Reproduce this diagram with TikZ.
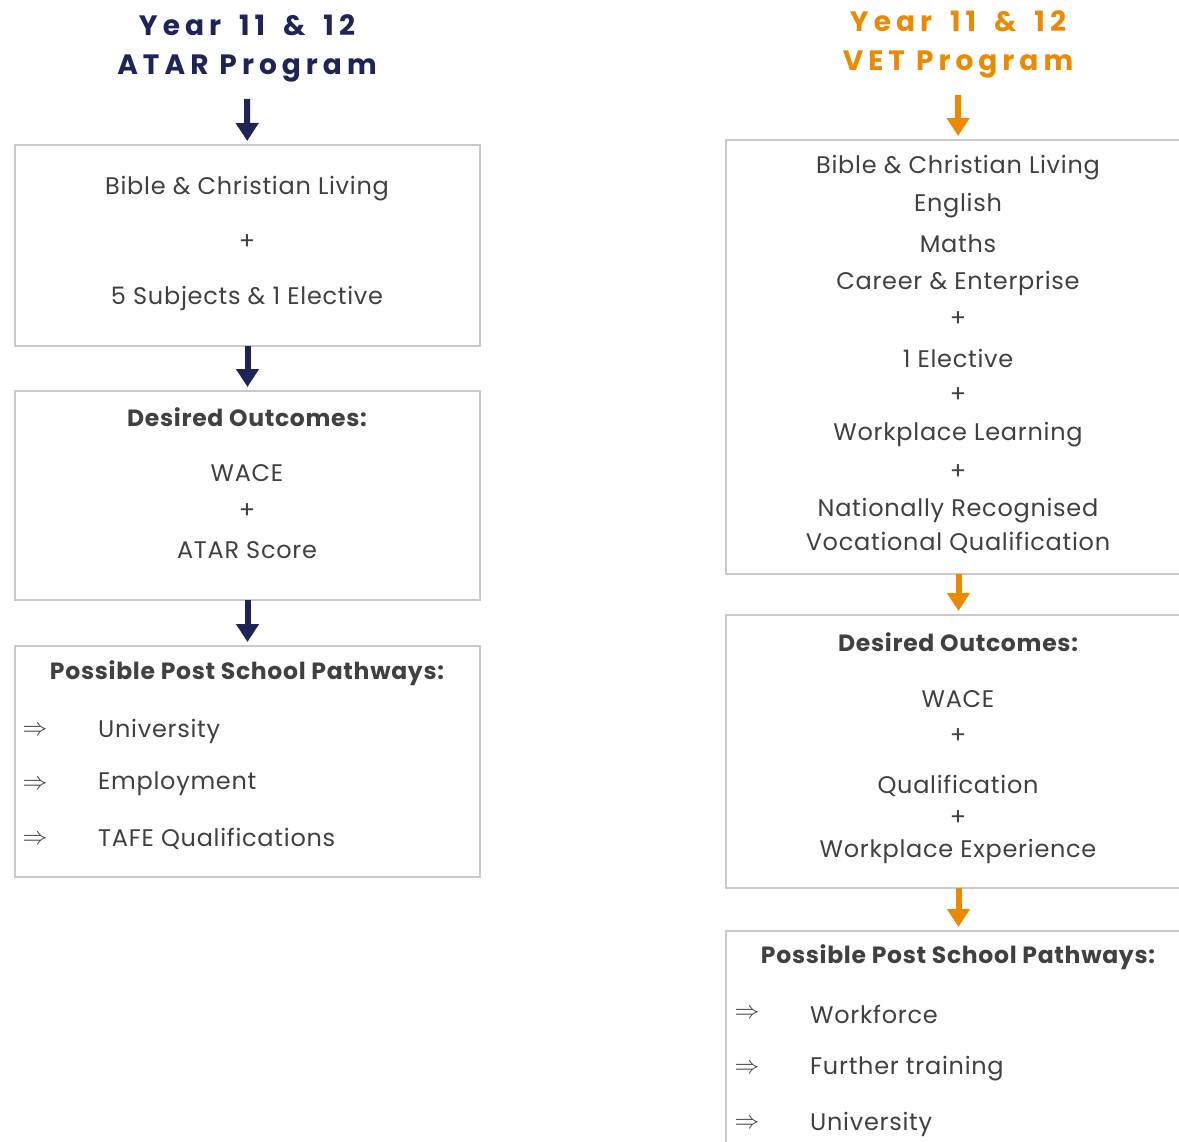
\documentclass[tikz,border=0pt]{standalone}
\usepackage{fontspec}
\setmainfont{Poppins}[LetterSpace=3]
\newfontfamily\headfont[LetterSpace=18]{Poppins}
\usetikzlibrary{arrows.meta, positioning}
\definecolor{atarblue}{HTML}{1F2458}
\definecolor{vetorange}{HTML}{EB8A00}
\definecolor{boxgray}{HTML}{CACACA}
\definecolor{textgray}{HTML}{404040}
\newcommand{\gap}{\hspace{7pt}}

\tikzset{
  box/.style={draw=boxgray, line width=1.2pt, inner sep=0pt, outer sep=0pt, minimum width=465pt},
  txt/.style={text=textgray, font=\fontsize{24}{28}\selectfont, inner sep=0pt, yshift=-2pt},
  hd/.style={text=textgray, font=\bfseries\fontsize{23.5}{28}\selectfont, inner sep=0pt, yshift=-1pt},
  item/.style={txt, anchor=west},
  imp/.style={text=textgray, font=\fontsize{27}{27}\selectfont, inner sep=0pt},
  prog/.style={font=\headfont\bfseries\fontsize{28}{39}\selectfont, align=center, inner sep=0pt},
  downarrow/.style={line width=6pt, -{Triangle[width=22pt,length=18pt]}, shorten >=4pt}
}

\begin{document}
\begin{tikzpicture}[x=1pt, y=-1pt]
\useasboundingbox (0,0) rectangle (1179,1142);

% ATAR column
\node[prog, text=atarblue] (atarhead) at (247,48) {Year\gap{} 11\gap{} \&\gap{} 12\\ATAR Program};
\node[box, minimum height=201pt] (abox1) at (247.5,245.5) {};
\node[txt] (abible) at (247,187) {Bible \& Christian Living};
\node[txt] (aplus1) at (247,240) {+};
\node[txt] (asubj) at (247,296) {5 Subjects \& 1 Elective};

\node[box, minimum height=209pt] (abox2) at (247.5,495.5) {};
\node[hd] (aout) at (247,416) {Desired Outcomes:};
\node[txt] (awace) at (247,471) {WACE};
\node[txt] (aplus2) at (247,509) {+};
\node[txt] (ascore) at (247,548) {ATAR Score};

\node[box, minimum height=231pt] (abox3) at (247.5,761.5) {};
\node[hd] (apath) at (247,672) {Possible Post School Pathways:};
\node[imp] (aimp1) at (35,731) {$\Rightarrow$};
\node[item] (auni) at (98,729) {University};
\node[imp] (aimp2) at (35,785) {$\Rightarrow$};
\node[item] (aemp) at (98,782) {Employment};
\node[imp] (aimp3) at (35,840) {$\Rightarrow$};
\node[item] (atafe) at (98,837) {TAFE Qualifications};

\draw[downarrow, atarblue, shorten <=17pt] (atarhead) -- (abox1);
\draw[downarrow, atarblue] (abox1) -- (abox2);
\draw[downarrow, atarblue] (abox2) -- (abox3);

% VET column
\node[prog, text=vetorange] (vethead) at (958,44) {Year\gap{} 11\gap{} \&\gap{} 12\\VET Program};
\node[box, minimum height=434pt] (vbox1) at (958.5,357) {};
\node[txt] (vbible) at (958,166) {Bible \& Christian Living};
\node[txt] (veng) at (958,204) {English};
\node[txt] (vmath) at (958,242) {Maths};
\node[txt] (vcareer) at (958,281) {Career \& Enterprise};
\node[txt] (vplus1) at (958,317) {+};
\node[txt] (velect) at (958,356) {1 Elective};
\node[txt] (vplus2) at (958,393) {+};
\node[txt] (vwork) at (958,433) {Workplace Learning};
\node[txt] (vplus3) at (958,470) {+};
\node[txt] (vnat) at (958,509) {Nationally Recognised};
\node[txt] (vvoc) at (958,541) {Vocational Qualification};

\node[box, minimum height=273pt] (vbox2) at (958.5,751.5) {};
\node[hd] (vout) at (958,641) {Desired Outcomes:};
\node[txt] (vwace) at (958,697) {WACE};
\node[txt] (vplus4) at (958,734) {+};
\node[txt] (vqual) at (958,784) {Qualification};
\node[txt] (vplus5) at (958,816) {+};
\node[txt] (vexp) at (958,849) {Workplace Experience};

\node[box, minimum height=260pt] (vbox3) at (958.5,1061) {};
\node[hd] (vpath) at (958,956) {Possible Post School Pathways:};
\node[imp] (vimp1) at (747,1014) {$\Rightarrow$};
\node[item] (vforce) at (810,1012) {Workforce};
\node[imp] (vimp2) at (747,1069) {$\Rightarrow$};
\node[item] (vtrain) at (810,1067) {Further training};
\node[imp] (vimp3) at (747,1124) {$\Rightarrow$};
\node[item] (vuni) at (810,1122) {University};

\draw[downarrow, vetorange, shorten <=17pt] (vethead) -- (vbox1);
\draw[downarrow, vetorange] (vbox1) -- (vbox2);
\draw[downarrow, vetorange] (vbox2) -- (vbox3);
\end{tikzpicture}
\end{document}
